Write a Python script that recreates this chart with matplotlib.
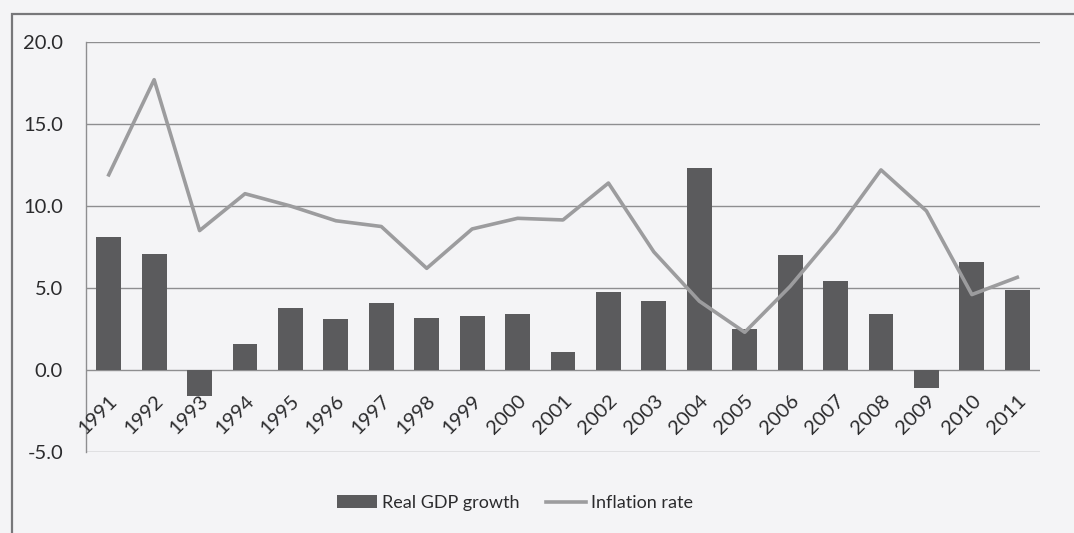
import matplotlib
matplotlib.use("Agg")
import matplotlib.pyplot as plt
from matplotlib.patches import Rectangle
import numpy as np

years = ["1991", "1992", "1993", "1994", "1995", "1996", "1997", "1998", "1999", "2000",
         "2001", "2002", "2003", "2004", "2005", "2006", "2007", "2008", "2009", "2010", "2011"]
gdp_growth = [8.1, 7.1, -1.6, 1.6, 3.8, 3.1, 4.1, 3.2, 3.3, 3.4,
              1.1, 4.75, 4.2, 12.3, 2.5, 7.0, 5.4, 3.4, -1.1, 6.6, 4.9]
inflation = [11.9, 17.7, 8.5, 10.75, 10.0, 9.1, 8.75, 6.2, 8.6, 9.25,
             9.15, 11.4, 7.2, 4.2, 2.3, 5.1, 8.4, 12.2, 9.7, 4.6, 5.65]
y_ticks = [-5.0, 0.0, 5.0, 10.0, 15.0, 20.0]

plt.rcParams['font.family'] = ['Lato', 'DejaVu Sans']

W, H = 1074, 533
bg = '#f4f4f6'
txt = '#2b2b2d'
fig = plt.figure(figsize=(W / 100, H / 100), dpi=100, facecolor=bg)
ax = fig.add_axes([86 / W, 1 - 452 / H, (1040 - 86) / W, (452 - 42) / H])
ax.set_facecolor(bg)

x = np.arange(len(years))
bars = ax.bar(x, gdp_growth, width=0.55, color='#5b5b5d', label='Real GDP growth', zorder=2)
line, = ax.plot(x, inflation, color='#9c9c9e', lw=2.6, label='Inflation rate', zorder=3)

ax.set_xlim(-0.5, len(years) - 0.5)
ax.set_ylim(-5, 20)
ax.set_yticks(y_ticks)
ax.set_yticklabels([f"{v:.1f}" for v in y_ticks], fontsize=14.5, color=txt)
ax.yaxis.grid(True, color='#8e8e90', lw=1.0, zorder=0)
ax.tick_params(axis='y', length=0, pad=16.5)

for s in ['top', 'right']:
    ax.spines[s].set_visible(False)
ax.spines['left'].set_color('#8e8e90')
ax.spines['left'].set_linewidth(1.0)
ax.spines['bottom'].set_position(('data', 0))
ax.spines['bottom'].set_visible(False)
ax.set_xticks(x)
ax.set_xticklabels(years, rotation=45, ha='right', rotation_mode='anchor',
                   fontsize=14.5, color=txt)
ax.tick_params(axis='x', length=0, pad=16)
ax.xaxis.set_zorder(5)
for lbl in ax.get_xticklabels():
    lbl.set_x(lbl.get_position()[0])

leg = fig.legend(handles=[bars, line], loc='center', bbox_to_anchor=(515 / W, 1 - 503 / H), ncol=2,
                 frameon=False, fontsize=13, handlelength=2.2, handletextpad=0.25,
                 columnspacing=1.5)
for t in leg.get_texts():
    t.set_color(txt)

fig.patches.append(Rectangle((12 / W, -0.1), 2, 1.1 - 14 / H, transform=fig.transFigure,
                             fill=False, edgecolor='#77777a', lw=1.6, zorder=0))

fig.savefig('out.png', dpi=100, facecolor=bg)
